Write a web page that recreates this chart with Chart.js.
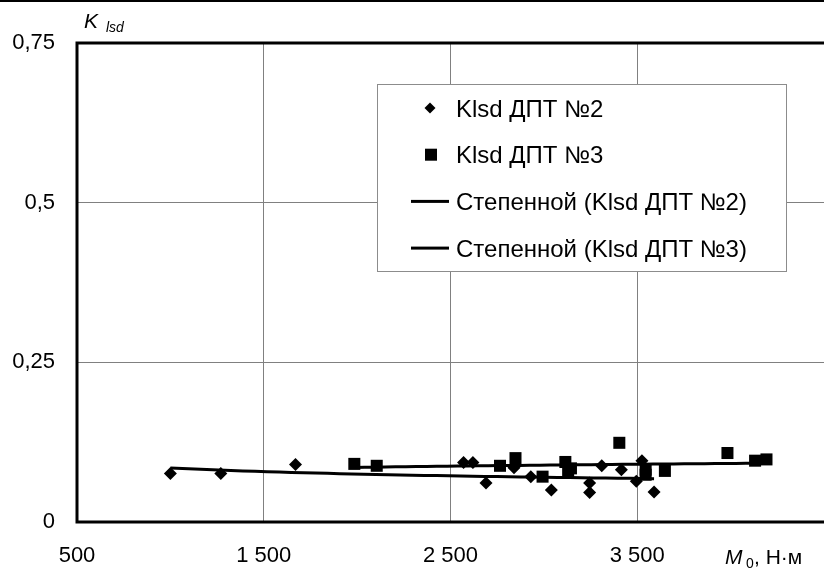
<!DOCTYPE html>
<html>
<head>
<meta charset="utf-8">
<script src="https://cdn.jsdelivr.net/npm/chart.js@4.4.1/dist/chart.umd.min.js"></script>
<style>
  html, body { margin: 0; padding: 0; background: #fff; }
  #wrap { width: 824px; height: 568px; overflow: hidden; }
</style>
</head>
<body>
<div id="wrap"><canvas id="chart" width="824" height="568"></canvas></div>
<script>
// Klsd ДПТ №2 (diamonds)
const dpt2X = [1000, 1270, 1670, 2570, 2620, 2690, 2840, 2930, 3040, 3245, 3245, 3310, 3415, 3495, 3525, 3590];
const dpt2Y = [0.076, 0.076, 0.090, 0.093, 0.093, 0.061, 0.085, 0.071, 0.050, 0.061, 0.046, 0.088, 0.082, 0.064, 0.096, 0.047];

// Klsd ДПТ №3 (squares)
const dpt3X = [1985, 2105, 2765, 2848, 2993, 3115, 3130, 3145, 3404, 3545, 3545, 3648, 3983, 4131, 4192];
const dpt3Y = [0.091, 0.088, 0.088, 0.100, 0.071, 0.094, 0.079, 0.084, 0.124, 0.082, 0.074, 0.080, 0.108, 0.096, 0.098];

const xTicks = [500, 1500, 2500, 3500, 4500];
const xTickLabels = ['500', '1 500', '2 500', '3 500', ''];
const yTicks = [0, 0.25, 0.5, 0.75];
const yTickLabels = ['0', '0,25', '0,5', '0,75'];

const seriesNames = ['Klsd ДПТ №2', 'Klsd ДПТ №3', 'Степенной (Klsd ДПТ №2)', 'Степенной (Klsd ДПТ №3)'];

const FONT = "'Liberation Sans', Arial, sans-serif";

// power trendline y = a*x^b, least squares in log-log like Excel does
function powerFit(xs, ys) {
  let sx = 0, sy = 0, sxx = 0, sxy = 0;
  const n = xs.length;
  for (let i = 0; i < n; i++) {
    const lx = Math.log(xs[i]), ly = Math.log(ys[i]);
    sx += lx; sy += ly; sxx += lx * lx; sxy += lx * ly;
  }
  const b = (n * sxy - sx * sy) / (n * sxx - sx * sx);
  const a = Math.exp((sy - b * sx) / n);
  return x => a * Math.pow(x, b);
}

function trendPoints(xs, ys) {
  const f = powerFit(xs, ys);
  const lo = Math.min(...xs), hi = Math.max(...xs);
  const pts = [];
  for (let i = 0; i <= 40; i++) {
    const x = lo + (hi - lo) * i / 40;
    pts.push({ x: x, y: f(x) });
  }
  return pts;
}

const toPoints = (xs, ys) => xs.map((x, i) => ({ x: x, y: ys[i] }));

// frame, axis titles and the boxed legend
const decorations = {
  id: 'decorations',
  beforeDatasetsDraw(chart) {
    const { ctx, chartArea: a } = chart;
    ctx.save();
    ctx.strokeStyle = '#000';
    ctx.lineWidth = 3;
    ctx.beginPath();
    ctx.moveTo(chart.width, a.top);
    ctx.lineTo(a.left, a.top);
    ctx.lineTo(a.left, a.bottom);
    ctx.lineTo(chart.width, a.bottom);
    ctx.stroke();
    ctx.restore();
  },
  afterDraw(chart) {
    const ctx = chart.ctx;
    ctx.save();
    ctx.fillStyle = '#000';
    ctx.fillRect(0, 0, chart.width, 2);

    // axis titles
    ctx.textBaseline = 'alphabetic';
    ctx.textAlign = 'left';
    ctx.font = 'italic 21px ' + FONT;
    ctx.fillText('K', 84, 28);
    ctx.font = 'italic 14px ' + FONT;
    ctx.fillText('lsd', 106, 32);

    ctx.font = 'italic 21px ' + FONT;
    ctx.fillText('M', 725, 564);
    ctx.font = '14px ' + FONT;
    ctx.fillText('0', 746, 568);
    ctx.font = '21px ' + FONT;
    ctx.fillText(', Н·м', 754, 564);

    // legend
    const lx = 377, ly = 84, lw = 409, lh = 187;
    ctx.fillStyle = '#fff';
    ctx.fillRect(lx, ly, lw, lh);
    ctx.strokeStyle = '#8c8c8c';
    ctx.lineWidth = 1;
    ctx.strokeRect(lx + 0.5, ly + 0.5, lw, lh);

    ctx.font = '24px ' + FONT;
    ctx.fillStyle = '#000';
    seriesNames.forEach((name, i) => {
      const cy = 108 + i * 46.7;
      if (i === 0) {
        ctx.beginPath();
        ctx.moveTo(430, cy - 5.5);
        ctx.lineTo(435.5, cy);
        ctx.lineTo(430, cy + 5.5);
        ctx.lineTo(424.5, cy);
        ctx.closePath();
        ctx.fill();
      } else if (i === 1) {
        ctx.fillRect(425, cy - 6, 12, 12);
      } else {
        ctx.fillRect(411, cy - 1.5, 38, 3);
      }
      ctx.fillText(name, 456, cy + 8.5);
    });
    ctx.restore();
  }
};

new Chart(document.getElementById('chart'), {
  type: 'scatter',
  data: {
    datasets: [{
      label: seriesNames[0],
      data: toPoints(dpt2X, dpt2Y),
      pointStyle: 'rectRot',
      pointRadius: 6.5,
      backgroundColor: '#000',
      borderWidth: 0,
      order: 1
    },
    {
      label: seriesNames[1],
      data: toPoints(dpt3X, dpt3Y),
      pointStyle: 'rect',
      pointRadius: 8.5,
      backgroundColor: '#000',
      borderWidth: 0,
      order: 1
    },
    {
      label: seriesNames[2],
      type: 'line',
      data: trendPoints(dpt2X, dpt2Y),
      borderColor: '#000',
      borderWidth: 3,
      pointRadius: 0,
      tension: 0,
      order: 0
    },
    {
      label: seriesNames[3],
      type: 'line',
      data: trendPoints(dpt3X, dpt3Y),
      borderColor: '#000',
      borderWidth: 3,
      pointRadius: 0,
      tension: 0,
      order: 0
    }]
  },
  options: {
    responsive: false,
    animation: false,
    layout: {
      autoPadding: false,
      padding: { top: 43, left: 0, right: 0, bottom: 0 }
    },
    scales: {
      x: {
        type: 'linear',
        min: 500,
        max: 4500,
        afterBuildTicks: scale => { scale.ticks = xTicks.map(v => ({ value: v })); },
        afterFit: scale => {
          scale.height = 46;
          scale.paddingLeft = 0;
          scale.paddingRight = 0;
        },
        border: { display: false },
        grid: { color: '#808080', lineWidth: 1, drawTicks: false },
        ticks: {
          callback: value => xTickLabels[xTicks.indexOf(value)],
          color: '#000',
          font: { family: FONT, size: 22 },
          padding: 21,
          maxRotation: 0,
          autoSkip: false
        }
      },
      y: {
        min: 0,
        max: 0.75,
        afterBuildTicks: scale => { scale.ticks = yTicks.map(v => ({ value: v })); },
        afterFit: scale => { scale.width = 77; },
        border: { display: false },
        grid: { color: '#808080', lineWidth: 1, drawTicks: false },
        ticks: {
          callback: value => yTickLabels[yTicks.indexOf(value)],
          color: '#000',
          font: { family: FONT, size: 22 },
          padding: 22
        }
      }
    },
    plugins: {
      legend: { display: false },
      tooltip: { enabled: false }
    }
  },
  plugins: [decorations]
});
</script>
</body>
</html>
